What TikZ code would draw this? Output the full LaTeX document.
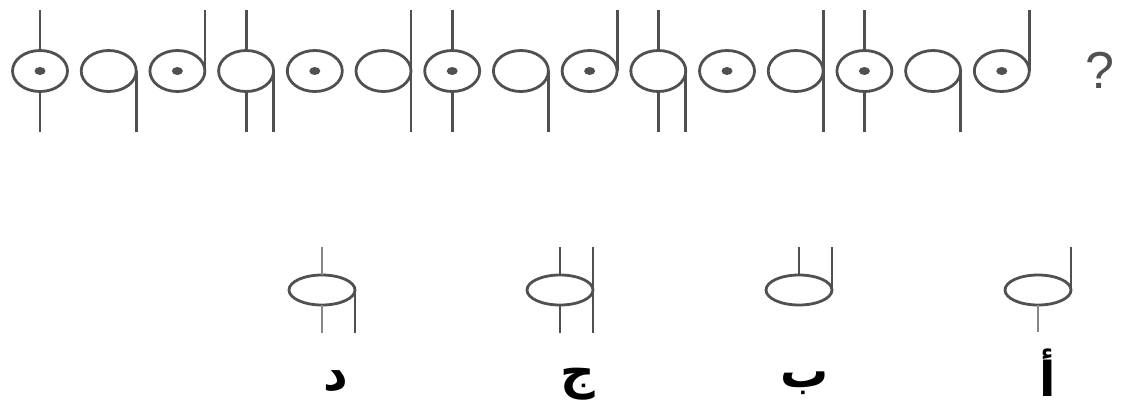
\documentclass[tikz,border=0pt]{standalone}
\usepackage{fontspec}
\setmainfont{Liberation Sans}
\newfontfamily\arabicfont[Script=Arabic]{DejaVu Sans}
\TeXXeTstate=1
\definecolor{ln}{RGB}{80,80,80}
\definecolor{lnl}{RGB}{135,135,135}
\begin{document}
\begin{tikzpicture}[x=1pt,y=-1pt,
  fig/.style={line width=2.8pt, draw=ln},
  figl/.style={line width=2.8pt, draw=lnl},
  dotfill/.style={fill=ln},
  lab/.style={font=\arabicfont\bfseries\fontsize{48}{48}\selectfont, text=black, inner sep=0pt}]
\useasboundingbox (0,0) rectangle (1123,408);
% top row
\foreach \i in {0,...,14} {
  \pgfmathsetmacro\cx{40+\i*68.7}
  \pgfmathtruncatemacro\t{mod(\i,6)}
  \draw[fig] (\cx,71) ellipse[x radius=27.5, y radius=20.5];
  \ifnum\t=0
    \draw[fig] (\cx,10) -- (\cx,50.5) (\cx,91.5) -- (\cx,132);
    \fill[dotfill] (\cx,71) ellipse[x radius=5.5, y radius=4];
  \fi
  \ifnum\t=1
    \draw[fig] (\cx+27.5,71) -- (\cx+27.5,132);
  \fi
  \ifnum\t=2
    \draw[fig] (\cx+27.5,10) -- (\cx+27.5,71);
    \fill[dotfill] (\cx,71) ellipse[x radius=5.5, y radius=4];
  \fi
  \ifnum\t=3
    \draw[fig] (\cx,10) -- (\cx,50.5) (\cx,91.5) -- (\cx,132);
    \draw[fig] (\cx+27.5,71) -- (\cx+27.5,132);
  \fi
  \ifnum\t=4
    \fill[dotfill] (\cx,71) ellipse[x radius=5.5, y radius=4];
  \fi
  \ifnum\t=5
    \draw[fig] (\cx+27.5,10) -- (\cx+27.5,132);
  \fi
}
\node[font=\fontsize{52}{52}\selectfont, text=ln, inner sep=0pt] (qm) at (1100,70) {?};
% options
% D
\draw[fig] (322,290) ellipse[x radius=33, y radius=15];
\draw[figl] (322,247) -- (322,275) (322,305) -- (322,333);
\draw[fig] (355,290) -- (355,333);
% J
\draw[fig] (560,290) ellipse[x radius=33, y radius=15];
\draw[fig] (560,247) -- (560,275) (560,305) -- (560,333);
\draw[fig] (593,247) -- (593,333);
% B
\draw[fig] (799,290) ellipse[x radius=33, y radius=15];
\draw[fig] (799,247) -- (799,275);
\draw[fig] (832,247) -- (832,290);
% A
\draw[fig] (1038,290) ellipse[x radius=33, y radius=15];
\draw[fig] (1071,247) -- (1071,290);
\draw[figl] (1038,305) -- (1038,332);
% labels
\node[lab] (ld) at (336,381) {\beginR د\endR};
\node[lab] (lj) at (578,384) {\beginR ج\endR};
\node[lab] (lb) at (805,383) {\beginR ب\endR};
\node[lab] (la) at (1048,373) {\beginR أ\endR};
\end{tikzpicture}
\end{document}
